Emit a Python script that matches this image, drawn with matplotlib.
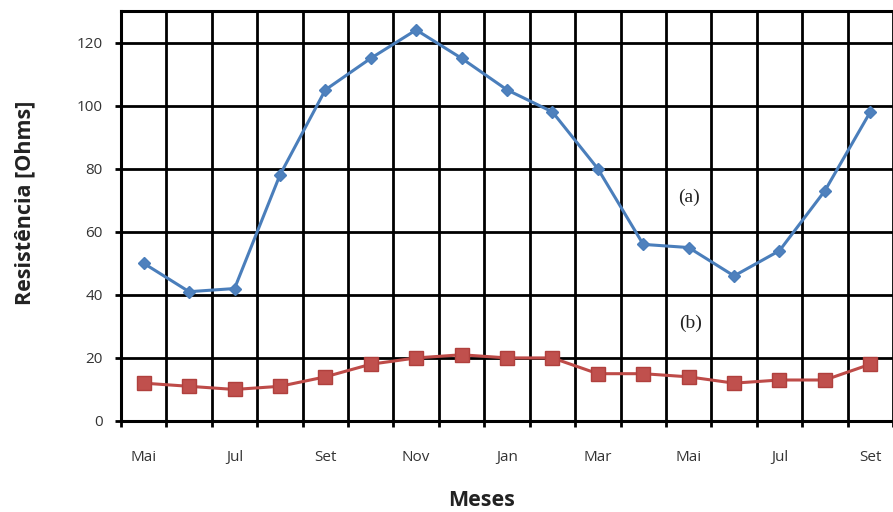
import matplotlib
matplotlib.use("Agg")
import matplotlib.pyplot as plt
import numpy as np

months = ["Mai", "Jun", "Jul", "Ago", "Set", "Out", "Nov", "Dez", "Jan",
          "Fev", "Mar", "Abr", "Mai", "Jun", "Jul", "Ago", "Set"]
serie_a = [50, 41, 42, 78, 105, 115, 124, 115, 105, 98, 80, 56, 55, 46, 54, 73, 98]
serie_b = [12, 11, 10, 11, 14, 18, 20, 21, 20, 20, 15, 15, 14, 12, 13, 13, 18]
y_ticks = [0, 20, 40, 60, 80, 100, 120]

fig = plt.figure(figsize=(8.93, 5.12), dpi=100)
ax = fig.add_axes([121/893, 1 - 421/512, (893 - 121)/893, (421 - 11)/512])

x = np.arange(len(months))
ax.plot(x, serie_a, color="#4A7EBB", lw=2.2, marker="D", ms=6,
        mfc="#4F81BD", mec="#4A7EBB", zorder=4)
ax.plot(x, serie_b, color="#BE4B48", lw=2.2, marker="s", ms=9.5,
        mfc="#C0504D", mec="#B0403D", zorder=4)

ax.set_xlim(-0.5, 16.28)
ax.set_ylim(0, 130)

ax.set_yticks(y_ticks)
ax.set_xticks(x[::2])
ax.set_xticklabels(months[::2])
ax.set_xticks(np.arange(-0.5, 17, 1), minor=True)

ax.grid(True, which="major", axis="y", color="black", lw=2.0, zorder=1)
ax.grid(True, which="minor", axis="x", color="black", lw=2.0, zorder=1)
ax.set_axisbelow(True)

ax.tick_params(axis="x", which="major", length=0, pad=21, labelsize=11,
               labelcolor="#333333")
ax.tick_params(axis="x", which="minor", length=4, width=2, color="black")
ax.tick_params(axis="y", which="major", length=4, width=2, pad=9,
               labelsize=11, labelcolor="#333333")
for lab in ax.get_xticklabels() + ax.get_yticklabels():
    lab.set_fontfamily("Open Sans")

for s in ["left", "bottom", "top"]:
    ax.spines[s].set_color("black")
    ax.spines[s].set_linewidth(2.2)
ax.spines["right"].set_visible(False)

fig.text(482/893, 1 - 500/512, "Meses", ha="center", va="center",
         fontsize=15.5, fontweight="bold", family="Open Sans", color="#222222")
fig.text(25/893, 1 - 203/512, "Resistência [Ohms]", ha="center", va="center",
         rotation=90, fontsize=15.5, fontweight="bold", family="Open Sans",
         color="#222222")

ax.text(12.0, 71, "(a)", ha="center", va="center", fontsize=14,
        family="Liberation Serif", color="#222222")
ax.text(12.05, 31, "(b)", ha="center", va="center", fontsize=14,
        family="Liberation Serif", color="#222222")

fig.savefig("out.png", dpi=100)
